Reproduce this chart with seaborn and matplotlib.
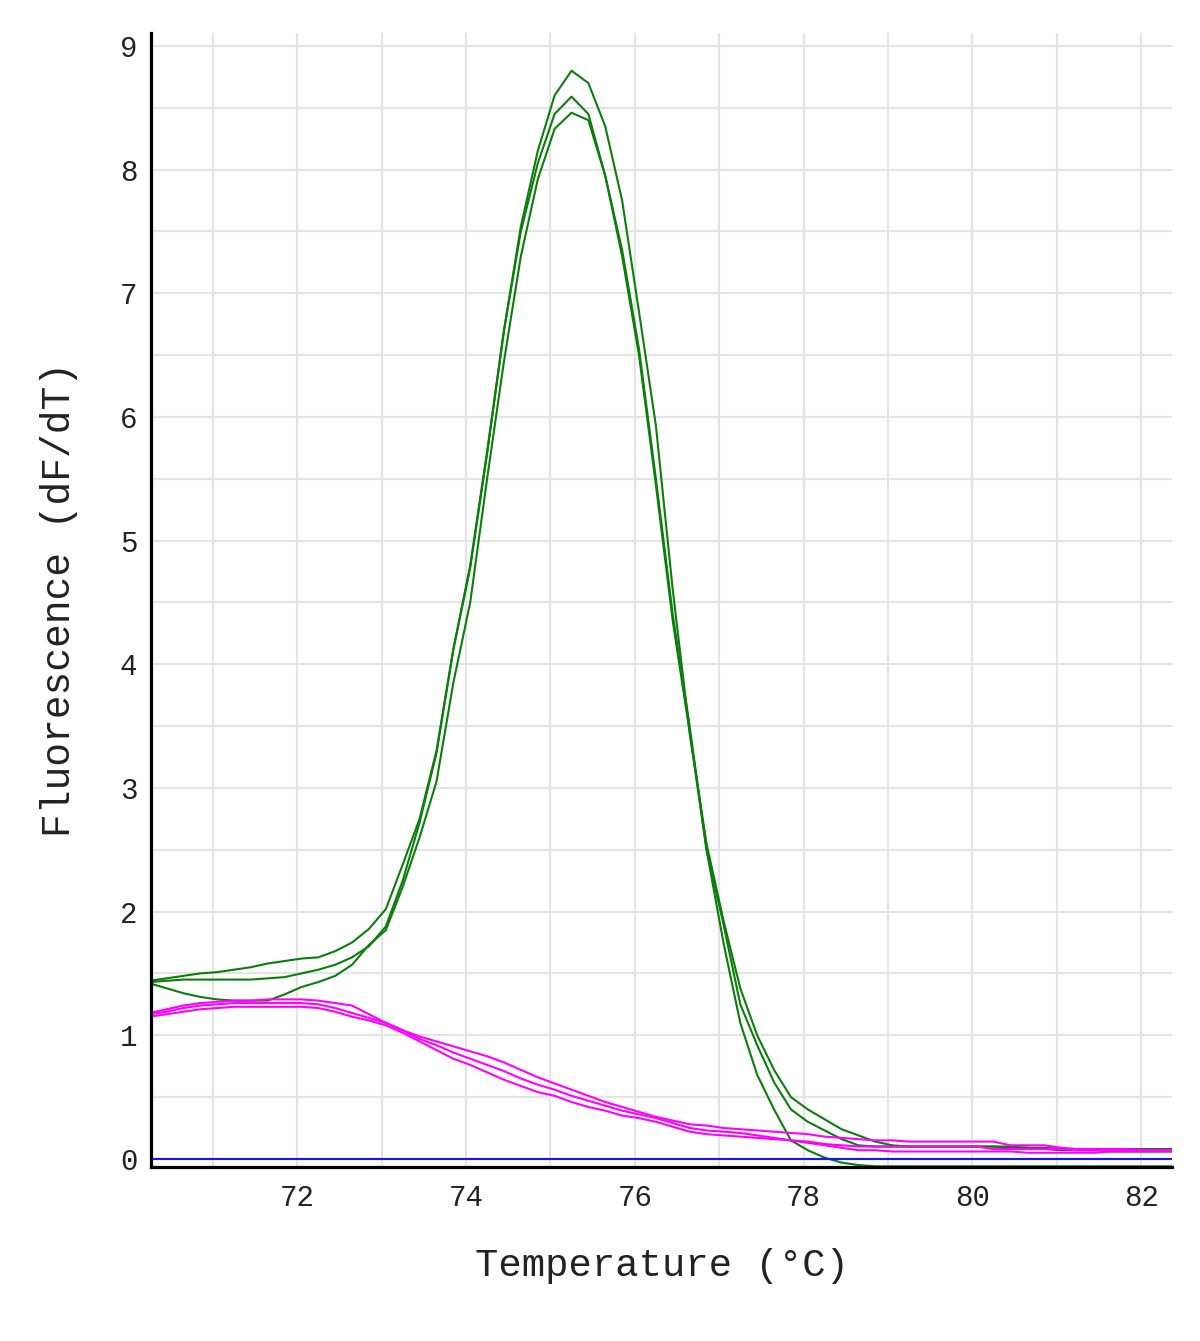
import numpy as np
import pandas as pd
import matplotlib.pyplot as plt
import seaborn as sns
from matplotlib.ticker import MultipleLocator, FuncFormatter

# temperature steps (degC)
temp = [70.25, 70.45, 70.65, 70.85, 71.05, 71.25, 71.45, 71.65, 71.85, 72.05,
        72.25, 72.45, 72.65, 72.85, 73.05, 73.25, 73.45, 73.65, 73.85, 74.05,
        74.25, 74.45, 74.65, 74.85, 75.05, 75.25, 75.45, 75.65, 75.85, 76.05,
        76.25, 76.45, 76.65, 76.85, 77.05, 77.25, 77.45, 77.65, 77.85, 78.05,
        78.25, 78.45, 78.65, 78.85, 79.05, 79.25, 79.45, 79.65, 79.85, 80.05,
        80.25, 80.45, 80.65, 80.85, 81.05, 81.25, 81.45, 81.65, 81.85, 82.05,
        82.25, 82.45]

# green wells (sample)
green_1 = [1.44, 1.46, 1.48, 1.50, 1.51, 1.53, 1.55, 1.58, 1.60, 1.62,
           1.63, 1.68, 1.75, 1.86, 2.02, 2.38, 2.75, 3.30, 4.12, 4.80,
           5.72, 6.70, 7.54, 8.15, 8.60, 8.80, 8.70, 8.35, 7.75, 6.85,
           5.93, 4.60, 3.45, 2.55, 1.93, 1.38, 1.00, 0.72, 0.50, 0.40,
           0.32, 0.24, 0.19, 0.14, 0.11, 0.10, 0.10, 0.10, 0.10, 0.10,
           0.10, 0.09, 0.09, 0.08, 0.07, 0.07, 0.07, 0.06, 0.06, 0.06,
           0.06, 0.06]
green_2 = [1.43, 1.44, 1.45, 1.45, 1.45, 1.45, 1.45, 1.46, 1.47, 1.50,
           1.53, 1.57, 1.63, 1.72, 1.88, 2.25, 2.72, 3.28, 4.12, 4.78,
           5.70, 6.70, 7.50, 8.05, 8.45, 8.59, 8.45, 7.95, 7.35, 6.55,
           5.50, 4.40, 3.50, 2.50, 1.90, 1.25, 0.92, 0.62, 0.40, 0.30,
           0.23, 0.16, 0.11, 0.10, 0.10, 0.10, 0.10, 0.10, 0.10, 0.10,
           0.10, 0.10, 0.09, 0.09, 0.08, 0.08, 0.08, 0.08, 0.08, 0.08,
           0.08, 0.08]
green_3 = [1.42, 1.38, 1.34, 1.31, 1.29, 1.28, 1.28, 1.28, 1.33, 1.39,
           1.43, 1.48, 1.57, 1.73, 1.85, 2.20, 2.60, 3.05, 3.85, 4.50,
           5.50, 6.45, 7.30, 7.92, 8.33, 8.46, 8.40, 7.95, 7.30, 6.50,
           5.45, 4.35, 3.45, 2.50, 1.75, 1.10, 0.68, 0.40, 0.15, 0.07,
           0.01, -0.03, -0.05, -0.06, -0.06, -0.06, -0.06, -0.06, -0.06, -0.06,
           -0.06, -0.06, -0.06, -0.06, -0.06, -0.06, -0.06, -0.06, -0.06, -0.06,
           -0.06, -0.06]

# magenta wells (control)
magenta_1 = [1.18, 1.21, 1.24, 1.26, 1.27, 1.28, 1.28, 1.29, 1.29, 1.29,
             1.28, 1.26, 1.24, 1.17, 1.10, 1.04, 0.99, 0.95, 0.91, 0.87,
             0.83, 0.78, 0.72, 0.66, 0.61, 0.56, 0.51, 0.46, 0.42, 0.38,
             0.34, 0.31, 0.28, 0.27, 0.25, 0.24, 0.23, 0.22, 0.21, 0.20,
             0.18, 0.17, 0.16, 0.15, 0.15, 0.14, 0.14, 0.14, 0.14, 0.14,
             0.14, 0.11, 0.11, 0.11, 0.09, 0.08, 0.08, 0.08, 0.08, 0.07,
             0.07, 0.07]
magenta_2 = [1.17, 1.19, 1.22, 1.24, 1.25, 1.26, 1.26, 1.26, 1.26, 1.26,
             1.25, 1.22, 1.18, 1.14, 1.10, 1.04, 0.97, 0.92, 0.86, 0.81,
             0.76, 0.71, 0.65, 0.60, 0.56, 0.51, 0.47, 0.43, 0.39, 0.36,
             0.33, 0.29, 0.25, 0.23, 0.22, 0.21, 0.19, 0.17, 0.15, 0.14,
             0.12, 0.11, 0.10, 0.10, 0.10, 0.10, 0.10, 0.10, 0.10, 0.10,
             0.08, 0.08, 0.08, 0.08, 0.08, 0.07, 0.07, 0.07, 0.07, 0.07,
             0.07, 0.07]
magenta_3 = [1.15, 1.17, 1.19, 1.21, 1.22, 1.23, 1.23, 1.23, 1.23, 1.23,
             1.22, 1.19, 1.15, 1.12, 1.08, 1.02, 0.95, 0.88, 0.81, 0.76,
             0.70, 0.64, 0.59, 0.54, 0.51, 0.46, 0.42, 0.39, 0.35, 0.33,
             0.30, 0.26, 0.22, 0.20, 0.19, 0.18, 0.17, 0.16, 0.15, 0.13,
             0.11, 0.09, 0.07, 0.07, 0.06, 0.06, 0.06, 0.06, 0.06, 0.06,
             0.06, 0.06, 0.05, 0.05, 0.05, 0.05, 0.05, 0.06, 0.06, 0.06,
             0.06, 0.06]

# blank well (flat line)
blank = [0.0] * len(temp)

wells = {
    'green_1': green_1, 'green_2': green_2, 'green_3': green_3,
    'magenta_1': magenta_1, 'magenta_2': magenta_2, 'magenta_3': magenta_3,
    'blank': blank,
}
well_colors = {
    'green_1': '#0b7d0b', 'green_2': '#0b7d0b', 'green_3': '#0b7d0b',
    'magenta_1': '#ff00ff', 'magenta_2': '#ff00ff', 'magenta_3': '#ff00ff',
    'blank': '#1414ff',
}

frames = []
for name, vals in wells.items():
    frames.append(pd.DataFrame({'temp': temp, 'dfdt': vals, 'well': name}))
df = pd.concat(frames, ignore_index=True)

sns.set_style('white')
plt.rcParams['font.family'] = ['Liberation Mono', 'DejaVu Sans Mono']

fig = plt.figure(figsize=(12, 13.41), dpi=100)
ax = fig.add_axes([0.126, 0.1298, 0.851, 0.8456])

sns.lineplot(data=df, x='temp', y='dfdt', hue='well', palette=well_colors,
             estimator=None, legend=False, linewidth=1.5, ax=ax)

ax.set_xlim(70.27, 82.37)
ax.set_ylim(-0.065, 9.105)

ax.xaxis.set_major_locator(MultipleLocator(1))
ax.yaxis.set_major_locator(MultipleLocator(0.5))
ax.xaxis.set_major_formatter(FuncFormatter(lambda v, p: f'{v:.0f}' if round(v) % 2 == 0 else ''))
ax.yaxis.set_major_formatter(FuncFormatter(lambda v, p: f'{v:.0f}' if abs(v - round(v)) < 1e-6 else ''))

ax.grid(True, color='#e4e4e4', linewidth=1.5)
ax.set_axisbelow(True)

for s in ['top', 'right']:
    ax.spines[s].set_visible(False)
for s in ['left', 'bottom']:
    ax.spines[s].set_color('black')
    ax.spines[s].set_linewidth(2.3)

ax.tick_params(axis='both', which='major', direction='out', length=4, width=1,
               color='#555555', labelsize=21, labelcolor='#222222')
ax.tick_params(axis='x', pad=8)
ax.tick_params(axis='y', pad=6)

ax.set_xlabel('Temperature (°C)', fontsize=28, labelpad=26, color='#222222')
ax.set_ylabel('Fluorescence (dF/dT)', fontsize=28.5, labelpad=30, color='#222222')

plt.savefig('out.png', dpi=100)
